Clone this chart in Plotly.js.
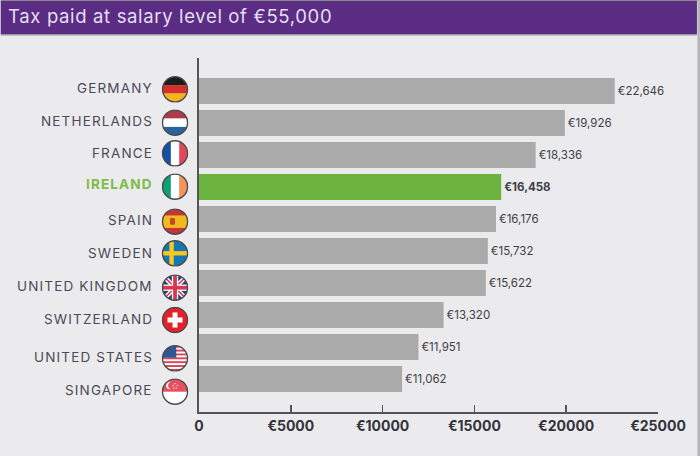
<!DOCTYPE html>
<html><head><meta charset="utf-8">
<script src="https://cdn.plot.ly/plotly-3.0.1.min.js"></script>
<style>html,body{margin:0;padding:0;background:#ebebed}
text.annotation-text{letter-spacing:1.15px}
text.gtitle{letter-spacing:.65px}
</style>
</head><body><div id="chart" style="width:700px;height:456px"></div>
<script>
const titleText = "Tax paid at salary level of €55,000";
const countries = ["GERMANY","NETHERLANDS","FRANCE","IRELAND","SPAIN","SWEDEN","UNITED KINGDOM","SWITZERLAND","UNITED STATES","SINGAPORE"];
const taxPaid = [22646,19926,18336,16458,16176,15732,15622,13320,11951,11062];
const valueLabels = ["€22,646","€19,926","€18,336","<b>€16,458</b>","€16,176","€15,732","€15,622","€13,320","€11,951","€11,062"];
const highlighted = "IRELAND";
const tickValues = [0,5000,10000,15000,20000,25000];
const tickLabels = ["0","€5000","€10000","€15000","€20000","€25000"];
const labelRowY = [88,121,153,184,220,253,286,319,357,390];
const flagRowY = [89.3,122.7,153.3,186.7,221.7,253.3,287.7,320,358.3,391.7];

const W=700,H=456,M={l:198.5,r:42,t:58,b:44};
const pw=W-M.l-M.r, ph=H-M.t-M.b;
const px=x=>(x-M.l)/pw, py=y=>(H-M.b-y)/ph;
const FONT="Inter, 'Open Sans', sans-serif";

function stripes(dir,cols){
  const n=cols.length,s=40/n;
  return cols.map((c,i)=>dir==='h'?`<rect x="0" y="${i*s}" width="40" height="${s+.2}" fill="${c}"/>`:`<rect x="${i*s}" y="0" width="${s+.2}" height="40" fill="${c}"/>`).join('');
}
const flagArt={
 GERMANY:stripes('h',['#1c1c1c','#d2302a','#f2b51c']),
 NETHERLANDS:stripes('h',['#ad3a4e','#ffffff','#2a64a0']),
 FRANCE:stripes('v',['#1550a4','#ffffff','#e2475c']),
 IRELAND:stripes('v',['#0fa070','#ffffff','#f2955a']),
 SPAIN:'<rect width="40" height="40" fill="#c8323a"/><rect y="10" width="40" height="20" fill="#f2ba1c"/><rect x="12" y="14" width="8" height="11" rx="2" fill="#c0482c"/>',
 SWEDEN:'<rect width="40" height="40" fill="#1477b8"/><rect x="11" width="7" height="40" fill="#f7c91e"/><rect y="16.5" width="40" height="7" fill="#f7c91e"/>',
 "UNITED KINGDOM":'<rect width="40" height="40" fill="#27408b"/><path d="M0 0L40 40M40 0L0 40" stroke="#fff" stroke-width="7"/><path d="M0 0L40 40M40 0L0 40" stroke="#d8374f" stroke-width="2.5"/><rect x="15" width="10" height="40" fill="#fff"/><rect y="15" width="40" height="10" fill="#fff"/><rect x="17" width="6" height="40" fill="#d8374f"/><rect y="17" width="40" height="6" fill="#d8374f"/>',
 SWITZERLAND:'<rect width="40" height="40" fill="#e3202c"/><rect x="16" y="8" width="8" height="24" fill="#fff"/><rect x="8" y="16" width="24" height="8" fill="#fff"/>',
 "UNITED STATES":'<rect width="40" height="40" fill="#fff"/>'+[0,1,2,3,4,5,6].map(i=>`<rect y="${i*6.15}" width="40" height="3.1" fill="#d8475c"/>`).join('')+'<rect width="22" height="19" fill="#2f5793"/>',
 SINGAPORE:'<rect width="40" height="40" fill="#fff"/><rect width="40" height="20" fill="#e9505f"/><circle cx="12" cy="10" r="6" fill="#fff"/><circle cx="15" cy="10" r="6" fill="#e9505f"/><circle cx="20" cy="7" r="1" fill="#fff"/><circle cx="24" cy="10" r="1" fill="#fff"/><circle cx="22" cy="14" r="1" fill="#fff"/><circle cx="18" cy="14" r="1" fill="#fff"/><circle cx="17" cy="10" r="1" fill="#fff"/>'
};
function flagUri(name){
  const svg=`<svg xmlns="http://www.w3.org/2000/svg" width="80" height="80" viewBox="-1.5 -1.5 43 43"><defs><clipPath id="c"><circle cx="20" cy="20" r="20"/></clipPath></defs><g clip-path="url(#c)">${flagArt[name]}</g><circle cx="20" cy="20" r="20" fill="none" stroke="#4a4a4a" stroke-width="2.2"/></svg>`;
  return 'data:image/svg+xml;base64,'+btoa(svg);
}
const images=countries.map((c,i)=>({source:flagUri(c),xref:'paper',yref:'paper',x:px(174.5),y:py(flagRowY[i]),sizex:27/pw,sizey:27/ph,xanchor:'center',yanchor:'middle',sizing:'stretch',layer:'above'}));
const annotations=countries.map((c,i)=>({text:c,xref:'paper',yref:'paper',x:px(154.5),y:py(labelRowY[i]),xanchor:'right',yanchor:'middle',showarrow:false,
  font:{family:FONT,size:13.5,color:c===highlighted?'#7dbd45':'#4a4a58',weight:c===highlighted?700:400}}));

const shapes=[
 {type:'rect',xref:'paper',yref:'paper',x0:px(0),x1:px(697),y0:py(1),y1:py(34.5),fillcolor:'#5b2c83',line:{width:0},layer:'below'},
 {type:'rect',xref:'paper',yref:'paper',x0:px(0),x1:px(700),y0:py(0),y1:py(1),fillcolor:'#8a8a8a',line:{width:0},layer:'below'},
 {type:'rect',xref:'paper',yref:'paper',x0:px(0),x1:px(697),y0:py(34),y1:py(35.5),fillcolor:'#9a9a9e',line:{width:0},layer:'below'},
 {type:'rect',xref:'paper',yref:'paper',x0:px(697.5),x1:px(700),y0:py(0),y1:py(456),fillcolor:'#b4b4b8',line:{width:0},layer:'below'}
];

Plotly.newPlot('chart',[{
  type:'bar',orientation:'h',y:countries,x:taxPaid,width:0.81,
  marker:{color:countries.map(c=>c===highlighted?'#6cb33f':'#aaaaaa'),line:{width:0}},
  text:valueLabels,textposition:'outside',cliponaxis:false,
  textfont:{family:FONT,size:11.5,color:'#3f3f48'},hoverinfo:'skip'
}],{
  width:W,height:H,margin:M,paper_bgcolor:'#ebebed',plot_bgcolor:'#ebebed',showlegend:false,
  font:{family:FONT},
  title:{text:titleText,x:8/W,xref:'container',xanchor:'left',y:1-17/H,yref:'container',yanchor:'middle',font:{family:FONT,size:18.5,color:'#e6dff0'}},
  xaxis:{range:[0,25000],tickvals:tickValues,ticktext:tickLabels,showgrid:false,zeroline:false,showline:true,linecolor:'#555',linewidth:2,
    ticks:'inside',ticklen:7,tickcolor:'#555',tickwidth:1.5,tickfont:{family:FONT,size:14,color:'#33333c',weight:700},fixedrange:true},
  yaxis:{type:'category',categoryorder:'array',categoryarray:countries,range:[10.03,-1.03],showticklabels:false,ticks:'',showgrid:false,zeroline:false,showline:true,linecolor:'#555',linewidth:2,fixedrange:true},
  images,annotations,shapes
},{displayModeBar:false,staticPlot:true});
</script></body></html>
